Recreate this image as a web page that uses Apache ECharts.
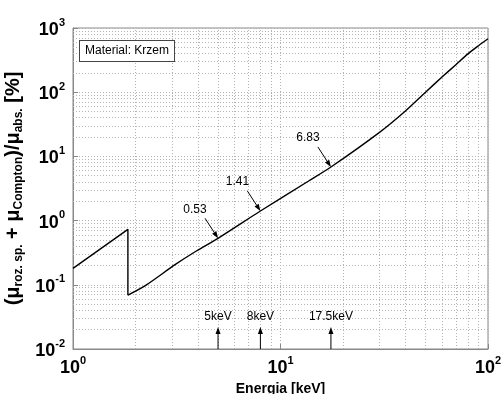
<!DOCTYPE html>
<html>
<head>
<meta charset="utf-8">
<script src="https://cdn.jsdelivr.net/npm/echarts@6/dist/echarts.min.js"></script>
<style>
html, body { margin: 0; padding: 0; background: #fff; }
#chartContainerSi { width: 501px; height: 394px; }
</style>
</head>
<body>
<div id="chartContainerSi"></div>
<script>
// energia [keV] i stosunek (rozpr. spojne + Compton) / absorpcja [%]
// odcinek ponizej krawedzi K krzemu
var energiesLow = [1, 1.839, 1.839];
var ratiosLow = [0.18, 0.73, 0.069];
// odcinek powyzej krawedzi K
var energiesHigh = [1.839, 2.25, 3.09, 3.93, 5, 8, 13.6, 17.5, 30, 40, 50, 60, 70, 80, 90, 100];
var ratiosHigh = [0.069, 0.099, 0.204, 0.336, 0.53, 1.41, 4.1, 6.83, 23.7, 51, 100, 172, 268, 395, 530, 680];

// punkty opisane strzalka
var pointEnergies = [5, 8, 17.5];
var pointValues = [0.53, 1.41, 6.83];
var pointLabels = ['0.53', '1.41', '6.83'];

// strzalki przy osi X
var lineEnergies = [5, 8, 17.5];
var lineLabels = ['5keV', '8keV', '17.5keV'];

// siatka
var xDecades = [1, 10];
var yDecades = [0.01, 0.1, 1, 10, 100];
var minorSteps = [2, 3, 4, 5, 6, 7, 8, 9];

var font = 'Arial, "Liberation Sans", sans-serif';
var gridStyle = { color: '#b4b4b4', width: 1, type: [1, 2] };

function powLabel(v) {
    var e = Math.round(Math.log10(v));
    return '{b|10}{s|' + e + '}';
}
var powRich = {
    b: { fontSize: 18, fontWeight: 'bold', fontFamily: font, color: '#000', lineHeight: 22, verticalAlign: 'bottom' },
    s: { fontSize: 11, fontWeight: 'bold', fontFamily: font, color: '#000', lineHeight: 11, verticalAlign: 'top' }
};

var gridMarks = [];
xDecades.forEach(function (d) {
    minorSteps.forEach(function (m) { gridMarks.push({ xAxis: d * m }); });
});
yDecades.forEach(function (d) {
    minorSteps.forEach(function (m) { gridMarks.push({ yAxis: d * m }); });
});

function pairs(xs, ys) {
    return xs.map(function (x, i) { return [x, ys[i]]; });
}

var myChartSi = echarts.init(document.getElementById('chartContainerSi'));

let optionSi = {
    animation: false,
    grid: {
        left: 73, right: 13, top: 28, bottom: 45,
        outerBoundsMode: 'none',
        show: true, borderColor: '#888', borderWidth: 1
    },
    xAxis: {
        type: 'log', logBase: 10, min: 1, max: 100,
        name: 'Energia [keV]', nameLocation: 'middle', nameGap: 31,
        nameTextStyle: { fontSize: 14, fontWeight: 'bold', fontFamily: font, color: '#000' },
        axisLine: { lineStyle: { color: '#888' } },
        axisTick: { inside: true, length: 5, lineStyle: { color: '#888' } },
        axisLabel: { formatter: powLabel, rich: powRich, margin: 6 },
        splitLine: { show: true, lineStyle: gridStyle }
    },
    yAxis: {
        type: 'log', logBase: 10, min: 0.01, max: 1000,
        name: '{p|(μ}{u|roz. sp.}{p| + μ}{u|Compton}{p|)/μ}{u|abs.}{p| [%]}',
        nameLocation: 'middle', nameGap: 35,
        nameTextStyle: {
            rich: {
                p: { fontSize: 20, fontWeight: 'bold', fontFamily: font, color: '#000', lineHeight: 21, verticalAlign: 'top' },
                u: { fontSize: 12, fontWeight: 'bold', fontFamily: font, color: '#000', lineHeight: 12, padding: [10, 0, 0, 0], verticalAlign: 'bottom' }
            }
        },
        axisLine: { lineStyle: { color: '#888' } },
        axisTick: { inside: true, length: 5, lineStyle: { color: '#888' } },
        axisLabel: { formatter: powLabel, rich: powRich, margin: 8 },
        splitLine: { show: true, lineStyle: gridStyle }
    },
    series: [
        {
            type: 'line',
            data: [],
            silent: true,
            markLine: {
                silent: true,
                symbol: ['none', 'none'],
                label: { show: false },
                lineStyle: gridStyle,
                data: gridMarks
            }
        },
        {
            type: 'line',
            data: pairs(energiesLow, ratiosLow),
            showSymbol: false,
            lineStyle: { color: '#000', width: 1.4 },
            z: 5
        },
        {
            type: 'line',
            data: pairs(energiesHigh, ratiosHigh),
            showSymbol: false,
            smooth: 0.25,
            lineStyle: { color: '#000', width: 1.4 },
            z: 5
        }
    ]
};

myChartSi.setOption(optionSi);

function arrow(x1, y1, x2, y2) {
    var dx = x2 - x1, dy = y2 - y1;
    var len = Math.sqrt(dx * dx + dy * dy);
    var ux = dx / len, uy = dy / len;
    var bx = x2 - ux * 7, by = y2 - uy * 7;
    return [
        { type: 'line', shape: { x1: x1, y1: y1, x2: bx, y2: by }, style: { stroke: '#000', lineWidth: 1 }, z: 10 },
        { type: 'polygon', shape: { points: [[x2, y2], [bx - uy * 2.5, by + ux * 2.5], [bx + uy * 2.5, by - ux * 2.5]] },
          style: { fill: '#000' }, z: 10 }
    ];
}

var extras = [];
pointEnergies.forEach(function (e, i) {
    var p = myChartSi.convertToPixel({ seriesIndex: 2 }, [e, pointValues[i]]);
    extras = extras.concat(arrow(p[0] - 13, p[1] - 20, p[0], p[1]));
    extras.push({
        type: 'text', x: p[0] - 23, y: p[1] - 29, z: 10,
        style: { text: pointLabels[i], align: 'center', verticalAlign: 'middle', font: '12px ' + font, fill: '#000' }
    });
});

var yBottom = myChartSi.convertToPixel({ yAxisIndex: 0 }, 0.01);
lineEnergies.forEach(function (e, i) {
    var x = myChartSi.convertToPixel({ xAxisIndex: 0 }, e);
    extras = extras.concat(arrow(x, yBottom, x, yBottom - 22));
    extras.push({
        type: 'text', x: x, y: yBottom - 32, z: 10,
        style: { text: lineLabels[i], align: 'center', verticalAlign: 'middle', font: '12px ' + font, fill: '#000' }
    });
});

extras.push({
    type: 'text', x: 80, y: 41, z: 10,
    style: {
        text: 'Material: Krzem', font: '12px ' + font, fill: '#000',
        backgroundColor: '#fff', borderColor: '#444', borderWidth: 1,
        padding: [3, 5], lineHeight: 14
    }
});

myChartSi.setOption({ graphic: extras });
</script>
</body>
</html>
